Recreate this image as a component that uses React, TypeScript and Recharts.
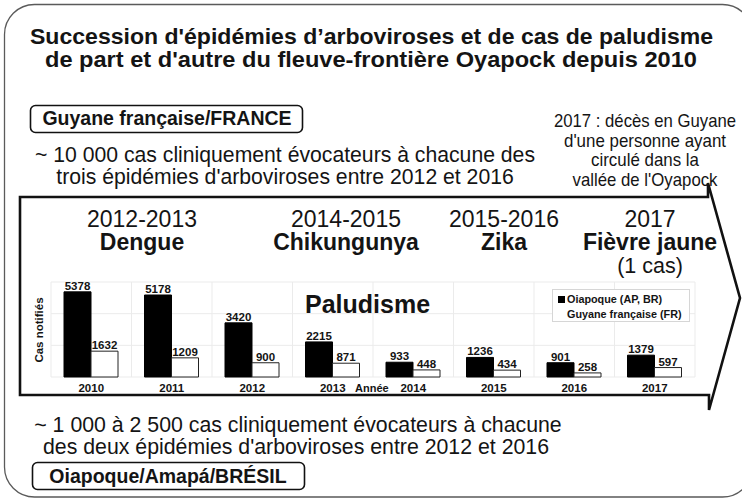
import React from "react";
import { BarChart, Bar, XAxis, YAxis, CartesianGrid, LabelList, Legend } from "recharts";

const years = ["2010", "2011", "2012", "2013", "2014", "2015", "2016", "2017"];
const oiapoque = [5378, 5178, 3420, 2215, 933, 1236, 901, 1379];
const guyane = [1632, 1209, 900, 871, 448, 434, 258, 597];
const yTicks = [0, 1000, 2000, 3000, 4000, 5000, 6000];

const seriesNames = ["Oiapoque (AP, BR)", "Guyane française (FR)"];
const seriesColors = ["#000", "#fff"];

const periods = ["2012-2013", "2014-2015", "2015-2016", "2017"];
const epidemics = ["Dengue", "Chikungunya", "Zika", "Fièvre jaune"];

const title = [
  "Succession d'épidémies d’arboviroses et de cas de paludisme",
  "de part et d'autre du fleuve-frontière Oyapock depuis 2010",
];
const frLabel = "Guyane française/FRANCE";
const frText = [
  "~ 10 000 cas cliniquement évocateurs à chacune des",
  "trois épidémies d'arboviroses entre 2012 et 2016",
];
const brLabel = "Oiapoque/Amapá/BRÉSIL";
const brText = [
  "~ 1 000 à 2 500 cas cliniquement évocateurs à chacune",
  "des deux épidémies d'arboviroses entre 2012 et 2016",
];
const note = ["2017 : décès en Guyane", "d'une personne ayant", "circulé dans la", "vallée de l'Oyapock"];

const data = years.map((year, i) => ({ year, oiapoque: oiapoque[i], guyane: guyane[i] }));

const SANS = "'Liberation Sans', Arial, sans-serif";
const INK = "#141414";

// layout of the text blocks
const epiX = [142, 346, 504, 650];
const noteWidths = [182, 162, 108, 145]; // condensed look of the note

const renderLegend = () => (
  <svg width={138} height={33} style={{ display: "block" }}>
    <rect x={0.5} y={0.5} width={137} height={32} fill="#fff" stroke="#d6d6d6" />
    {seriesNames.map((name, i) => (
      <g key={name}>
        <rect x={6} y={7 + i * 15} width={7} height={7} fill={seriesColors[i]} />
        <text x={15} y={13.5 + i * 15} fontSize={10.8} fontWeight="bold" fill={INK} fontFamily={SANS}>
          {name}
        </text>
      </g>
    ))}
  </svg>
);

const labelStyle = { fontSize: 11.5, fontWeight: "bold", fill: INK, fontFamily: SANS };

export default function App() {
  return (
    <div style={{ position: "absolute", left: 0, top: 0, width: 742, height: 500, background: "#fff" }}>
      <BarChart
        width={742}
        height={500}
        data={data}
        margin={{ top: 282, right: 47, bottom: 103, left: 51 }}
        barGap={0}
        style={{ position: "absolute", left: 0, top: 0 }}
      >
        <CartesianGrid
          stroke="#ebebeb"
          verticalCoordinatesGenerator={({ offset }: any) =>
            Array.from({ length: years.length + 1 }, (_, i) => offset.left + (i * offset.width) / years.length)
          }
        />
        <XAxis
          dataKey="year"
          height={20}
          axisLine={false}
          tickLine={false}
          tickSize={6}
          tickMargin={1}
          interval={0}
          tick={labelStyle}
        />
        <YAxis hide domain={[0, 6000]} ticks={yTicks} />
        <Legend
          layout="horizontal"
          verticalAlign="middle"
          align="center"
          content={renderLegend}
          wrapperStyle={{ position: "absolute", left: 552, top: 289, width: 138, height: 33, margin: 0, padding: 0 }}
        />
        <Bar dataKey="oiapoque" name={seriesNames[0]} fill="#000" stroke="#000" barSize={27} isAnimationActive={false}>
          <LabelList dataKey="oiapoque" position="top" offset={2} style={labelStyle} />
        </Bar>
        <Bar dataKey="guyane" name={seriesNames[1]} fill="#fff" stroke="#222" barSize={27} isAnimationActive={false}>
          <LabelList dataKey="guyane" position="top" offset={2} style={labelStyle} />
        </Bar>
      </BarChart>

      <svg width={742} height={500} style={{ position: "absolute", left: 0, top: 0, pointerEvents: "none" }}>
        {/* outer frame */}
        <rect x={4.5} y={4.5} width={748} height={492.5} rx={30} fill="none" stroke="#5a5a5a" strokeWidth={1.3} />

        {/* timeline arrow */}
        <path
          d="M20 197 H708 V183 L740 298 L709 410 V395 H20 Z"
          fill="none"
          stroke="#111"
          strokeWidth={2.6}
          strokeLinejoin="miter"
        />

        {/* title */}
        <text x={371.5} y={44} textAnchor="middle" fontSize={22.5} fontWeight="bold" fill={INK} fontFamily={SANS} textLength={683} lengthAdjust="spacingAndGlyphs">
          {title[0]}
        </text>
        <text x={371} y={67} textAnchor="middle" fontSize={22.5} fontWeight="bold" fill={INK} fontFamily={SANS} textLength={652} lengthAdjust="spacingAndGlyphs">
          {title[1]}
        </text>

        {/* French side */}
        <rect x={30.5} y={105.5} width={272} height={27} rx={5} fill="#fff" stroke="#111" strokeWidth={1.6} />
        <text x={167} y={125} textAnchor="middle" fontSize={19.5} fontWeight="bold" fill={INK} fontFamily={SANS}>
          {frLabel}
        </text>
        <text x={285} y={162} textAnchor="middle" fontSize={21.2} fill={INK} fontFamily={SANS}>
          {frText[0]}
        </text>
        <text x={285} y={184} textAnchor="middle" fontSize={21.2} fill={INK} fontFamily={SANS}>
          {frText[1]}
        </text>

        {/* 2017 note */}
        {note.map((line, i) => (
          <text
            key={line}
            x={645}
            y={127 + i * 19.6}
            textAnchor="middle"
            fontSize={19}
            fill={INK}
            fontFamily={SANS}
            textLength={noteWidths[i]}
            lengthAdjust="spacingAndGlyphs"
          >
            {line}
          </text>
        ))}

        {/* epidemics */}
        {periods.map((p, i) => (
          <g key={p}>
            <text x={epiX[i]} y={226.7} textAnchor="middle" fontSize={23} fill={INK} fontFamily={SANS}>
              {p}
            </text>
            <text x={epiX[i]} y={249.5} textAnchor="middle" fontSize={23} fontWeight="bold" fill={INK} fontFamily={SANS}>
              {epidemics[i]}
            </text>
          </g>
        ))}
        <text x={650} y={273} textAnchor="middle" fontSize={21.5} fill={INK} fontFamily={SANS}>
          (1 cas)
        </text>

        {/* chart annotations */}
        <text x={305} y={313} fontSize={25} fontWeight="bold" fill={INK} fontFamily={SANS}>
          Paludisme
        </text>
        <text transform="translate(43,330) rotate(-90)" textAnchor="middle" fontSize={11.5} fontWeight="bold" fill={INK} fontFamily={SANS}>
          Cas notifiés
        </text>
        <text x={355} y={392} fontSize={11} fontWeight="bold" fill={INK} fontFamily={SANS}>
          Année
        </text>

        {/* Brazilian side */}
        <text x={298} y={432} textAnchor="middle" fontSize={21.3} fill={INK} fontFamily={SANS}>
          {brText[0]}
        </text>
        <text x={296} y={454} textAnchor="middle" fontSize={21.3} fill={INK} fontFamily={SANS}>
          {brText[1]}
        </text>
        <rect x={32.5} y={462.5} width={272} height={27} rx={5} fill="#fff" stroke="#111" strokeWidth={1.6} />
        <text x={168} y={483} textAnchor="middle" fontSize={19.5} fontWeight="bold" fill={INK} fontFamily={SANS}>
          {brLabel}
        </text>
      </svg>
    </div>
  );
}
